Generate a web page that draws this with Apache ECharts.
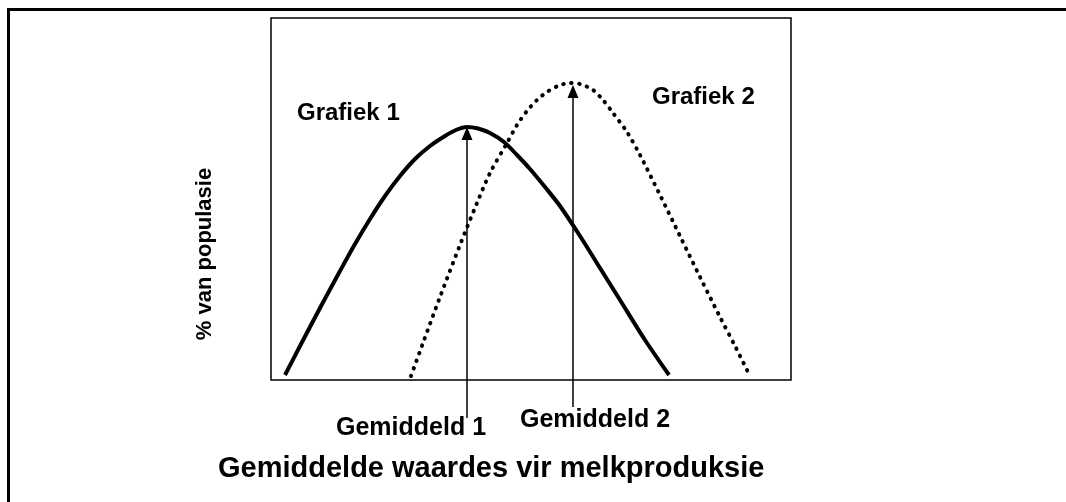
<!DOCTYPE html>
<html>
<head>
<meta charset="utf-8">
<title>Gemiddelde waardes vir melkproduksie</title>
<script src="https://cdn.jsdelivr.net/npm/echarts@6/dist/echarts.min.js"></script>
<style>
html, body { margin: 0; padding: 0; background: #fff; }
#chart { width: 1066px; height: 502px; }
</style>
</head>
<body>
<div id="chart"></div>
<script>
// grafiek 1 - soliede kurwe
var grafiek1X = [14, 29, 49, 69, 84, 99, 114, 129, 144, 159, 174, 185, 196, 207, 219, 233, 246, 259, 274, 289, 309, 329, 349, 374, 398];
var grafiek1Y = [5, 34, 72, 109, 136, 161, 184, 204, 221, 234, 244, 250, 253, 251.5, 247, 238, 225, 211, 193, 174, 144, 112, 80, 40, 5];
// grafiek 2 - stippel kurwe
var grafiek2X = [140, 152, 169, 189, 206, 219, 236, 246, 256, 266, 276, 287, 299, 309, 322, 332, 342, 356, 369, 389, 409, 429, 449, 464, 479];
var grafiek2Y = [4, 37, 83, 135, 177, 207, 237, 255, 269, 280, 288, 294, 297, 296, 290, 280, 267, 248, 225, 185, 144, 103, 63, 34, 4];
// gemiddeldes: x, onderkant van pyl, punt van pyl
var gemiddeldX = [196, 302];
var pylVoet = [-38, -27];
var pylPunt = [253, 295];
var gemiddeldNames = ['Gemiddeld 1', 'Gemiddeld 2'];

var FONT = '"Liberation Sans", Arial, sans-serif';

function pairs(xs, ys) {
  return xs.map(function (x, i) { return [x, ys[i]]; });
}

function label(text, x, y, size) {
  return {
    type: 'text',
    x: x,
    y: y,
    style: {
      text: text,
      font: 'bold ' + size + 'px ' + FONT,
      fill: '#000',
      align: 'left',
      verticalAlign: 'middle'
    }
  };
}

var myChart = echarts.init(document.getElementById('chart'));
myChart.setOption({
  animation: false,
  backgroundColor: '#fff',
  grid: {
    left: 271,
    right: 275,
    top: 18,
    bottom: 122,
    show: true,
    borderColor: '#000',
    borderWidth: 1.5
  },
  xAxis: {
    type: 'value',
    min: 0,
    max: 520,
    axisLine: { show: false },
    axisTick: { show: false },
    axisLabel: { show: false },
    splitLine: { show: false }
  },
  yAxis: {
    type: 'value',
    min: 0,
    max: 362,
    axisLine: { show: false },
    axisTick: { show: false },
    axisLabel: { show: false },
    splitLine: { show: false }
  },
  series: [
    {
      name: 'Grafiek 1',
      type: 'line',
      data: pairs(grafiek1X, grafiek1Y),
      smooth: 0.3,
      showSymbol: false,
      lineStyle: { color: '#000', width: 4 }
    },
    {
      name: 'Grafiek 2',
      type: 'line',
      data: pairs(grafiek2X, grafiek2Y),
      smooth: 0.3,
      showSymbol: false,
      lineStyle: { color: '#000', width: 4, type: [0.5, 7.5], cap: 'round' }
    },
    {
      // pyle vir die gemiddeldes
      type: 'custom',
      clip: false,
      data: gemiddeldX.map(function (x, i) { return [x, pylVoet[i], pylPunt[i]]; }),
      encode: { x: 0, y: [1, 2] },
      renderItem: function (params, api) {
        var voet = api.coord([api.value(0), api.value(1)]);
        var punt = api.coord([api.value(0), api.value(2)]);
        var kopH = 13, kopW = 5.5;
        return {
          type: 'group',
          children: [
            {
              type: 'line',
              shape: { x1: voet[0], y1: voet[1], x2: punt[0], y2: punt[1] + kopH },
              style: { stroke: '#000', lineWidth: 1.5 }
            },
            {
              type: 'polygon',
              shape: { points: [[punt[0], punt[1]], [punt[0] - kopW, punt[1] + kopH], [punt[0] + kopW, punt[1] + kopH]] },
              style: { fill: '#000' }
            }
          ]
        };
      }
    }
  ],
  graphic: [
    // buitenste raam
    { type: 'line', shape: { x1: 7, y1: 9.5, x2: 1066, y2: 9.5 }, style: { stroke: '#000', lineWidth: 3 } },
    { type: 'line', shape: { x1: 8.5, y1: 8, x2: 8.5, y2: 502 }, style: { stroke: '#000', lineWidth: 3 } },
    label('Grafiek 1', 297, 113, 24),
    label('Grafiek 2', 652, 97, 24),
    label(gemiddeldNames[0], 336, 428, 25),
    label(gemiddeldNames[1], 520, 420, 25),
    label('Gemiddelde waardes vir melkproduksie', 218, 469, 29),
    // y-as titel
    {
      type: 'text',
      x: 205,
      y: 254,
      rotation: Math.PI / 2,
      style: {
        text: '% van populasie',
        font: 'bold 22px ' + FONT,
        fill: '#000',
        align: 'center',
        verticalAlign: 'middle'
      }
    }
  ]
});
</script>
</body>
</html>
